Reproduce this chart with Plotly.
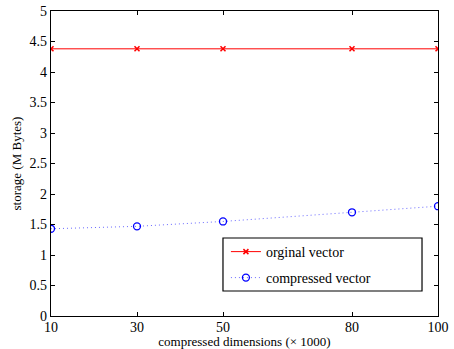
import plotly.graph_objects as go

# compressed dimensions (x 1000)
dims = [10, 30, 50, 80, 100]
# storage in MB
original_storage = [4.38, 4.38, 4.38, 4.38, 4.38]
compressed_storage = [1.43, 1.47, 1.55, 1.70, 1.80]

x_ticks = [10, 30, 50, 80, 100]
y_ticks = [0, 0.5, 1, 1.5, 2, 2.5, 3, 3.5, 4, 4.5, 5]

font_family = "Times New Roman"

fig = go.Figure()
fig.add_trace(go.Scatter(
    x=dims, y=original_storage, mode="lines+markers", name="orginal vector",
    line=dict(color="#ff0000", width=1),
    marker=dict(symbol="x-thin", size=5, line=dict(color="#ff0000", width=1.5)),
    legend="legend",
))
fig.add_trace(go.Scatter(
    x=dims, y=compressed_storage, mode="lines+markers", name="compressed vector",
    line=dict(color="#6a6aff", width=1, dash="1px,3px"),
    marker=dict(symbol="circle-open", size=7, color="#0000ff", line=dict(width=1.3)),
    legend="legend2",
))

axis_common = dict(
    showline=True, linecolor="black", linewidth=1.3, mirror="ticks",
    ticks="inside", ticklen=4, tickcolor="black", showgrid=False, zeroline=False,
    tickfont=dict(family=font_family, size=14, color="black"),
    automargin=False,
)

legend_common = dict(xanchor="left", yanchor="middle", borderwidth=0,
                     bgcolor="rgba(0,0,0,0)", font=dict(family=font_family, size=14))

fig.update_layout(
    width=454, height=349,
    margin=dict(l=51, r=16, t=11, b=33, autoexpand=False),
    paper_bgcolor="white", plot_bgcolor="white",
    font=dict(family=font_family, color="black"),
    xaxis=dict(range=[10, 100], tickvals=x_ticks, ticktext=[str(v) for v in x_ticks],
               ticklabelstandoff=-2,
               title=dict(text="compressed dimensions (× 1000)",
                          font=dict(family=font_family, size=13), standoff=0),
               **axis_common),
    yaxis=dict(range=[0, 5], tickvals=y_ticks,
               title=dict(text="storage (M Bytes)",
                          font=dict(family=font_family, size=13), standoff=4),
               **axis_common),
    legend=dict(x=0.452, y=0.2098, **legend_common),
    legend2=dict(x=0.452, y=0.1246, **legend_common),
    showlegend=True,
    # legend frame
    shapes=[dict(type="rect", xref="paper", yref="paper",
                 x0=0.4444, x1=0.9587, y0=0.082, y1=0.2557,
                 line=dict(color="black", width=1.2), fillcolor="white", layer="below")],
)

fig.write_html("out.html")
